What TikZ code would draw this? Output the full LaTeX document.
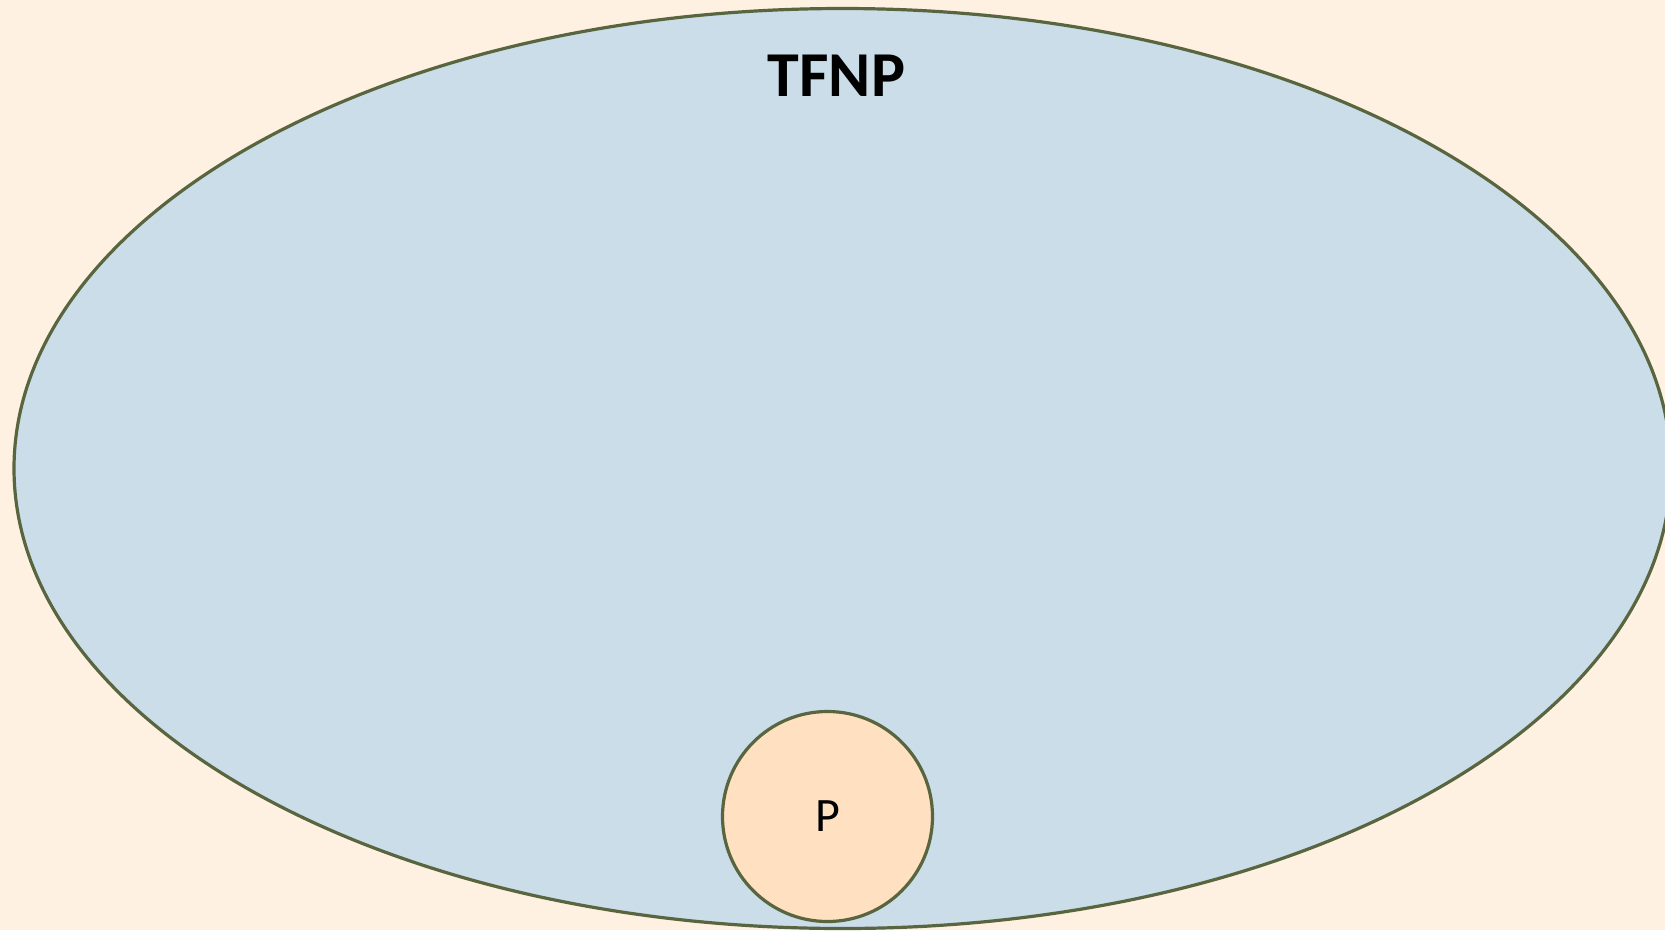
\documentclass[tikz,border=0pt]{standalone}
\usepackage{fontspec}
\setmainfont{Carlito}
\usetikzlibrary{shapes.geometric}

\definecolor{bgpeach}{HTML}{FFF1E2}
\definecolor{setblue}{HTML}{CADDE8}
\definecolor{ppeach}{HTML}{FFE0C1}
\definecolor{edgeolive}{HTML}{58653F}

\begin{document}
\begin{tikzpicture}[
  x=1pt, y=-1pt,
  every node/.style={align=center, inner sep=0pt},
  classbig/.style  ={ellipse, draw=edgeolive, fill=setblue, line width=3.2pt, minimum width=1657pt, minimum height=920pt},
  classsmall/.style={circle, draw=edgeolive, fill=ppeach, line width=3.2pt, minimum size=210pt},
  biglabel/.style  ={font=\fontsize{64}{70}\selectfont\bfseries},
  smalllabel/.style={font=\fontsize{48}{54}\selectfont}
]
% page = 1665 x 930 px, 1px = 1pt
\useasboundingbox[fill=bgpeach] (0,0) rectangle (1665,930);

% the big class, cut by the right edge
\node[classbig] (tfnp) at (842.5,468.5) {};
\node[biglabel] (tfnplabel) at (836.5,76) {TFNP};

% P sits at the bottom, inside TFNP
\node[classsmall] (p) at (827.5,816.5) {};
\node[smalllabel] (plabel) at (p.center) {P};
\end{tikzpicture}
\end{document}
